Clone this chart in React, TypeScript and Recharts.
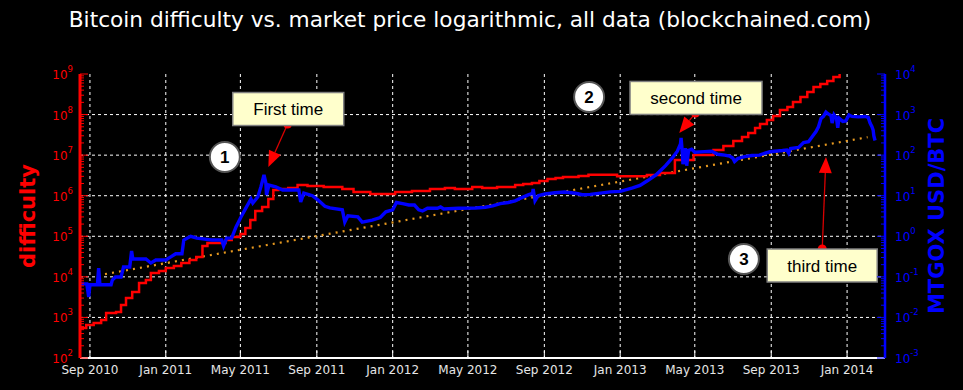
import React from 'react';
import { LineChart, Line, XAxis, YAxis, CartesianGrid, ReferenceDot, ReferenceLine } from 'recharts';

const toTime = (s: string) => Date.parse(s + 'T00:00:00Z');

// x range and date ticks
const xStart = '2010-08-16';
const xEnd = '2014-03-03';
const xTickDates = ['2010-09-01', '2011-01-01', '2011-05-01', '2011-09-01', '2012-01-01', '2012-05-01',
  '2012-09-01', '2013-01-01', '2013-05-01', '2013-09-01', '2014-01-01'];
const xTickLabels = ['Sep 2010', 'Jan 2011', 'May 2011', 'Sep 2011', 'Jan 2012', 'May 2012',
  'Sep 2012', 'Jan 2013', 'May 2013', 'Sep 2013', 'Jan 2014'];

// network difficulty (left axis, step line)
const diffDates = ['2010-08-14', '2010-08-26', '2010-09-07', '2010-09-19', '2010-09-27', '2010-10-13', '2010-10-21',
  '2010-10-29', '2010-11-08', '2010-11-19', '2010-11-30', '2010-12-08', '2010-12-21', '2011-01-01', '2011-01-14',
  '2011-01-26', '2011-02-08', '2011-02-19', '2011-03-01', '2011-03-09', '2011-04-07', '2011-04-17', '2011-05-01',
  '2011-05-09', '2011-05-17', '2011-05-25', '2011-06-05', '2011-06-15', '2011-06-23', '2011-07-01', '2011-07-17',
  '2011-08-01', '2011-08-17', '2011-09-12', '2011-10-12', '2011-10-30', '2011-11-26', '2012-01-05', '2012-02-01',
  '2012-03-01', '2012-03-25', '2012-04-10', '2012-05-08', '2012-05-24', '2012-06-17', '2012-07-16', '2012-07-29',
  '2012-08-12', '2012-08-24', '2012-09-06', '2012-09-19', '2012-10-01', '2012-10-26', '2012-11-11', '2012-12-27',
  '2013-02-13', '2013-03-06', '2013-03-30', '2013-04-29', '2013-05-31', '2013-06-16', '2013-07-02', '2013-07-16',
  '2013-07-26', '2013-08-06', '2013-08-14', '2013-08-25', '2013-09-04', '2013-09-15', '2013-09-27', '2013-10-06',
  '2013-10-18', '2013-10-29', '2013-11-08', '2013-11-19', '2013-11-30', '2013-12-10', '2013-12-20', '2014-01-01',
  '2014-01-28', '2014-03-03'];
const diffValues = [548, 650, 729, 865, 1286, 1361, 2025,
  3010, 4233, 7060, 8370, 12450, 13940, 16530, 18530,
  21980, 26060, 30900, 57680, 68400, 81100, 96200, 113800,
  160000, 252000, 420000, 527000, 830000, 1380000, 1470000, 1550000,
  1840000, 1740000, 1640000, 1470000, 1240000, 1100000, 1240000, 1310000,
  1470000, 1550000, 1470000, 1640000, 1550000, 1640000, 1840000, 1950000,
  2060000, 2310000, 2580000, 2740000, 2890000, 3060000, 3300000, 3000000,
  3240000, 3630000, 7590000, 10100000, 13400000, 16800000, 22300000, 28000000,
  35200000, 46700000, 58600000, 73500000, 92200000, 130000000, 154000000, 204000000,
  271000000, 360000000, 479000000, 567000000, 673000000, 843000000, 1180000000, 1420000000,
  2190000000, 2620000000];

// MtGox USD/BTC (right axis)
const priceDates = ['2010-08-14', '2010-08-27', '2010-08-30', '2010-09-01', '2010-09-13', '2010-09-15', '2010-09-17',
  '2010-10-05', '2010-10-07', '2010-10-12', '2010-10-21', '2010-10-25', '2010-11-04', '2010-11-07', '2010-11-09',
  '2010-11-30', '2010-12-08', '2010-12-16', '2011-01-01', '2011-01-09', '2011-01-17', '2011-01-27', '2011-01-30',
  '2011-02-10', '2011-02-20', '2011-03-16', '2011-04-01', '2011-04-04', '2011-04-09', '2011-04-17', '2011-04-24',
  '2011-05-02', '2011-05-10', '2011-05-18', '2011-05-21', '2011-05-29', '2011-06-03', '2011-06-08', '2011-06-11',
  '2011-06-12', '2011-06-16', '2011-06-27', '2011-07-08', '2011-08-03', '2011-08-06', '2011-08-11', '2011-08-25',
  '2011-09-03', '2011-09-14', '2011-09-22', '2011-10-12', '2011-10-16', '2011-10-21', '2011-11-06', '2011-11-13',
  '2011-11-29', '2011-12-12', '2011-12-21', '2012-01-01', '2012-01-07', '2012-01-17', '2012-01-27', '2012-02-05',
  '2012-02-12', '2012-02-18', '2012-02-26', '2012-03-13', '2012-03-18', '2012-03-23', '2012-04-16', '2012-05-13',
  '2012-05-29', '2012-06-10', '2012-06-22', '2012-07-05', '2012-07-16', '2012-07-27', '2012-08-06', '2012-08-13',
  '2012-08-14', '2012-08-17', '2012-08-22', '2012-09-02', '2012-09-18', '2012-10-04', '2012-10-21', '2012-11-01',
  '2012-11-14', '2012-11-30', '2012-12-16', '2013-01-01', '2013-01-21', '2013-02-02', '2013-02-15', '2013-02-27',
  '2013-03-07', '2013-03-15', '2013-03-21', '2013-03-27', '2013-04-03', '2013-04-08', '2013-04-09', '2013-04-11',
  '2013-04-12', '2013-04-15', '2013-04-16', '2013-04-18', '2013-04-21', '2013-04-26', '2013-05-01', '2013-05-17',
  '2013-05-28', '2013-06-07', '2013-06-18', '2013-06-26', '2013-07-01', '2013-07-04', '2013-07-09', '2013-07-20',
  '2013-08-01', '2013-08-13', '2013-08-22', '2013-08-30', '2013-09-07', '2013-09-19', '2013-09-26', '2013-09-29',
  '2013-10-02', '2013-10-15', '2013-10-23', '2013-10-31', '2013-11-07', '2013-11-12', '2013-11-16', '2013-11-20',
  '2013-11-24', '2013-11-28', '2013-12-01', '2013-12-06', '2013-12-08', '2013-12-11', '2013-12-15', '2013-12-17',
  '2013-12-19', '2013-12-25', '2013-12-30', '2014-01-04', '2014-01-09', '2014-01-19', '2014-01-30', '2014-02-04',
  '2014-02-07', '2014-02-10', '2014-02-12', '2014-02-13', '2014-02-15'];
const priceValues = [0.067, 0.067, 0.032, 0.064, 0.064, 0.165, 0.064,
  0.064, 0.083, 0.099, 0.099, 0.175, 0.175, 0.434, 0.275,
  0.275, 0.22, 0.26, 0.26, 0.31, 0.37, 0.37, 0.81,
  1.0, 0.9, 0.81, 0.81, 0.58, 0.9, 0.9, 1.7,
  3.0, 5.0, 8.3, 6.6, 9.3, 16.5, 32.4, 20.7,
  10.4, 18.3, 16.5, 13.8, 13.8, 7, 11.6, 10,
  7.8, 5.5, 5, 4.5, 2.24, 3.2, 3.0, 2.24,
  2.5, 2.9, 4.0, 4.5, 6.8, 6.4, 5.9, 5.9,
  4.5, 4.2, 4.9, 4.9, 5.3, 4.7, 4.9, 5.0,
  5.2, 5.6, 6.4, 6.8, 7.5, 9.0, 10.5, 11.5,
  14.6, 7.5, 10, 11, 11.8, 12.3, 11.5, 10.6,
  10.8, 11.6, 12.4, 12.8, 15.6, 18, 24, 32,
  42, 55, 70, 90, 125, 190, 265, 110,
  60, 90, 150, 55, 130, 140, 118, 122,
  125, 105, 100, 95, 85, 70, 82, 92,
  98, 100, 112, 121, 125, 130, 134, 112,
  145, 155, 205, 215, 300, 380, 500, 800,
  900, 1150, 1050, 950, 620, 980, 800, 470,
  820, 680, 700, 980, 900, 880, 900, 850,
  620, 500, 410, 300, 230];

// exponential trend (left axis)
const trendDates = ['2010-09-14', '2014-02-03'];
const trendValues = [10900, 27700000];

// annotations
const boxLabels = ['First time', 'second time', 'third time'];
const boxDates = ['2011-07-17', '2013-05-03', '2013-11-22'];
const boxValues = [1.37e8, 2.57e8, 19050];
const boxWidths = [111, 132, 110];
const arrowFromDates = ['2011-07-16', '2013-05-02', '2013-11-22'];
const arrowFromValues = [5.86e7, 1.09e8, 48600];
const arrowToDates = ['2011-06-15', '2013-04-06', '2013-11-28'];
const arrowToValues = [5.1e6, 3.52e7, 9.0e6];
const circleLabels = ['1', '2', '3'];
const circleDates = ['2011-04-06', '2012-11-12', '2013-07-19'];
const circleValues = [9.0e6, 2.71e8, 27500];

const leftTicks: number[] = [];
for (let k = 2; k <= 9; k++) for (let m = 1; m <= (k < 9 ? 9 : 1); m++) leftTicks.push(m * Math.pow(10, k));
const rightTicks: number[] = [];
for (let k = -3; k <= 4; k++) for (let m = 1; m <= (k < 4 ? 9 : 1); m++) rightTicks.push(m * Math.pow(10, k));
const gridValues = [1e3, 1e4, 1e5, 1e6, 1e7, 1e8];

const diffData = diffDates.map((d, i) => ({ t: toTime(d), v: diffValues[i] }));
const priceData = priceDates.map((d, i) => ({ t: toTime(d), v: priceValues[i] }));
const trendData = trendDates.map((d, i) => ({ t: toTime(d), v: trendValues[i] }));
const xTicks = xTickDates.map(toTime);

const RED = '#ff0000';
const BLUE = '#0000ff';
const DEJAVU = 'DejaVu Sans, sans-serif';
const ARIAL = 'Liberation Sans, Arial, sans-serif';

const exponent = (v: number) => {
  const l = Math.log10(v);
  const e = Math.round(l);
  return { e, major: Math.abs(l - e) < 1e-6 };
};

const LeftTick = ({ x, y, payload }: any) => {
  const { e, major } = exponent(payload.value);
  return (
    <g>
      <line x1={x} x2={x + (major ? 8 : 4)} y1={y} y2={y} stroke={RED} strokeWidth={1} />
      {major && (
        <text x={x - 7} y={y + 5} fill={RED} fontSize={12} fontFamily={DEJAVU} textAnchor="end">
          10<tspan dy={-7} fontSize={8.5}>{e}</tspan>
        </text>
      )}
    </g>
  );
};

const RightTick = ({ x, y, payload }: any) => {
  const { e, major } = exponent(payload.value);
  return (
    <g>
      <line x1={x} x2={x - (major ? 8 : 4)} y1={y} y2={y} stroke={BLUE} strokeWidth={1} />
      {major && (
        <text x={x + 10} y={y + 5} fill={BLUE} fontSize={12} fontFamily={DEJAVU} textAnchor="start">
          10<tspan dy={-7} fontSize={8.5}>{e}</tspan>
        </text>
      )}
    </g>
  );
};

const BottomTick = ({ x, y, payload }: any) => {
  const i = xTicks.indexOf(payload.value);
  return (
    <g>
      <line x1={x} x2={x} y1={y} y2={y - 7} stroke="#fff" strokeWidth={1} />
      <text x={x} y={y + 16} fill="#e6e6e6" fontSize={12} fontFamily={DEJAVU} textAnchor="middle">
        {xTickLabels[i]}
      </text>
    </g>
  );
};

const TopTick = ({ x, y }: any) => <line x1={x} x2={x} y1={y} y2={y + 7} stroke="#fff" strokeWidth={1} />;

const boxShape = (label: string, w: number) => (p: any) => (
  <g>
    <rect x={p.cx - w / 2} y={p.cy - 16.5} width={w} height={33} fill="#ffffcc" stroke="#808080" strokeWidth={1.5} />
    <text x={p.cx} y={p.cy + 6} textAnchor="middle" fontSize={17} fontFamily={ARIAL} fill="#000">
      {label}
    </text>
  </g>
);

const circleShape = (label: string) => (p: any) => (
  <g>
    <circle cx={p.cx} cy={p.cy} r={15} fill="#fff" stroke="#555" strokeWidth={2} />
    <text x={p.cx} y={p.cy + 6} textAnchor="middle" fontSize={17} fontWeight="bold" fontFamily={ARIAL} fill="#000">
      {label}
    </text>
  </g>
);

const arrowShape = (p: any) => {
  const { x1, y1, x2, y2 } = p;
  const dx = x2 - x1;
  const dy = y2 - y1;
  const len = Math.hypot(dx, dy) || 1;
  const ux = dx / len;
  const uy = dy / len;
  const hl = 16;
  const hw = 6.5;
  const bx = x2 - ux * hl;
  const by = y2 - uy * hl;
  return (
    <g>
      <line x1={x1} y1={y1} x2={bx} y2={by} stroke="#d80000" strokeWidth={1.3} />
      <polygon points={`${x2},${y2} ${bx - uy * hw},${by + ux * hw} ${bx + uy * hw},${by - ux * hw}`} fill={RED} />
      <circle cx={x1} cy={y1} r={4.5} fill={RED} />
    </g>
  );
};

export default function App() {
  return (
    <div style={{ position: 'absolute', left: 0, top: 0, width: 963, height: 390, background: '#000' }}>
      <div
        style={{
          position: 'absolute', left: 0, top: 6, width: 940, textAlign: 'center', color: '#fff',
          fontFamily: DEJAVU, fontSize: 21.7, lineHeight: '28px', whiteSpace: 'nowrap',
        }}
      >
        Bitcoin difficulty vs. market price logarithmic, all data (blockchained.com)
      </div>
      <LineChart width={963} height={390} margin={{ top: 74, right: 0, bottom: 0, left: 0 }}>
        <XAxis
          xAxisId="bottom" dataKey="t" type="number" domain={[toTime(xStart), toTime(xEnd)]} ticks={xTicks}
          allowDataOverflow height={32} interval={0} tickSize={0} tickMargin={0} tickLine={false}
          axisLine={{ stroke: '#fff', strokeWidth: 2 }} tick={<BottomTick />}
        />
        <XAxis
          xAxisId="top" orientation="top" dataKey="t" type="number" domain={[toTime(xStart), toTime(xEnd)]}
          ticks={xTicks} allowDataOverflow height={0} interval={0} tickSize={0} tickMargin={0} tickLine={false}
          axisLine={{ stroke: '#fff', strokeWidth: 2 }} tick={<TopTick />}
        />
        <YAxis
          yAxisId="left" scale="log" domain={[1e2, 1e9]} ticks={leftTicks} allowDataOverflow width={80} interval={0}
          tickSize={0} tickMargin={0} tickLine={false} axisLine={{ stroke: RED, strokeWidth: 3 }} tick={<LeftTick />}
          label={{
            content: ({ viewBox }: any) => (
              <text
                x={viewBox.x + 28} y={viewBox.y + viewBox.height / 2} fill={RED} fontSize={21} fontWeight="bold"
                fontFamily={DEJAVU} textAnchor="middle" dominantBaseline="central"
                transform={`rotate(-90 ${viewBox.x + 28} ${viewBox.y + viewBox.height / 2})`}
              >
                difficulty
              </text>
            ),
          }}
        />
        <YAxis
          yAxisId="right" orientation="right" scale="log" domain={[1e-3, 1e4]} ticks={rightTicks} allowDataOverflow
          width={78} interval={0} tickSize={0} tickMargin={0} tickLine={false}
          axisLine={{ stroke: BLUE, strokeWidth: 2.5 }} tick={<RightTick />}
          label={{
            content: ({ viewBox }: any) => (
              <text
                x={viewBox.x + 52} y={viewBox.y + viewBox.height / 2} fill={BLUE} fontSize={21} fontWeight="bold"
                fontFamily={DEJAVU} textAnchor="middle" dominantBaseline="central"
                transform={`rotate(-90 ${viewBox.x + 52} ${viewBox.y + viewBox.height / 2})`}
              >
                MTGOX USD/BTC
              </text>
            ),
          }}
        />
        <CartesianGrid
          xAxisId="bottom" yAxisId="left" stroke="#fff" strokeDasharray="3 3" strokeWidth={1}
          horizontalValues={gridValues} verticalValues={xTicks}
        />
        <Line
          xAxisId="bottom" yAxisId="left" data={trendData} dataKey="v" type="linear" stroke="#e89a20"
          strokeWidth={2.2} strokeDasharray="2 5.1" dot={false} isAnimationActive={false}
        />
        <Line
          xAxisId="bottom" yAxisId="left" data={diffData} dataKey="v" type="stepAfter" stroke={RED}
          strokeWidth={2.5} dot={false} isAnimationActive={false}
        />
        <Line
          xAxisId="bottom" yAxisId="right" data={priceData} dataKey="v" type="linear" stroke={BLUE}
          strokeWidth={3.4} dot={false} isAnimationActive={false}
        />
        {circleLabels.map((c, i) => (
          <ReferenceDot
            key={'c' + i} xAxisId="bottom" yAxisId="left" x={toTime(circleDates[i])} y={circleValues[i]}
            r={15} shape={circleShape(c)}
          />
        ))}
        {boxLabels.map((b, i) => (
          <ReferenceDot
            key={'b' + i} xAxisId="bottom" yAxisId="left" x={toTime(boxDates[i])} y={boxValues[i]}
            r={10} shape={boxShape(b, boxWidths[i])}
          />
        ))}
        {boxLabels.map((b, i) => (
          <ReferenceLine
            key={'a' + i} xAxisId="bottom" yAxisId="left"
            segment={[
              { x: toTime(arrowFromDates[i]), y: arrowFromValues[i] },
              { x: toTime(arrowToDates[i]), y: arrowToValues[i] },
            ]}
            shape={arrowShape}
          />
        ))}
      </LineChart>
    </div>
  );
}
